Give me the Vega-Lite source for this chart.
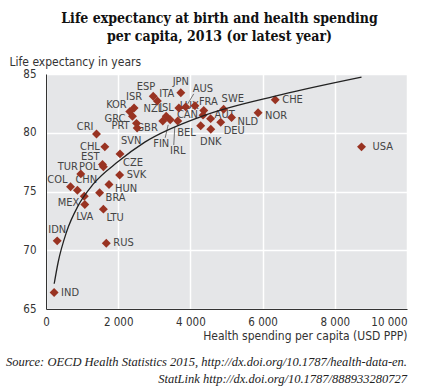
{
  "$schema": "https://vega.github.io/schema/vega-lite/v6.json",
  "padding": {"left": 2, "top": 12, "right": 5, "bottom": 5},
  "background": "white",
  "datasets": {
    "trend": [
      {"spend": 227, "le": 67.15},
      {"spend": 338, "le": 69.0},
      {"spend": 568, "le": 71.55},
      {"spend": 892, "le": 73.8},
      {"spend": 1300, "le": 75.6},
      {"spend": 2000, "le": 77.55},
      {"spend": 2737, "le": 79.2},
      {"spend": 4313, "le": 81.4},
      {"spend": 6524, "le": 83.25},
      {"spend": 8740, "le": 84.74}
    ]
  },
  "title": {
    "text": ["Source:  OECD Health Statistics 2015, http://dx.doi.org/10.1787/health-data-en.", "StatLink  http://dx.doi.org/10.1787/888933280727"],
    "orient": "bottom", "anchor": "end", "frame": "bounds",
    "font": "Liberation Serif", "fontStyle": "italic", "fontWeight": "normal", "fontSize": 12.5,
    "color": "#222222", "lineHeight": 17, "offset": 14
  },
  "vconcat": [
    {
      "width": 361,
      "height": 235,
      "title": {
        "text": ["Life expectancy at birth and health spending", "per capita, 2013 (or latest year)"],
        "anchor": "middle", "frame": "group", "dx": -7,
        "font": "DejaVu Serif Condensed", "fontWeight": "bold", "fontSize": 14,
        "lineHeight": 18, "color": "#111111", "offset": 11
      },
      "data": {"values": [
        {"country": "IND", "spend": 225, "le": 66.4},
        {"country": "IDN", "spend": 310, "le": 70.8},
        {"country": "RUS", "spend": 1670, "le": 70.6},
        {"country": "LTU", "spend": 1590, "le": 73.5},
        {"country": "LVA", "spend": 1075, "le": 73.9},
        {"country": "MEX", "spend": 1060, "le": 74.6},
        {"country": "BRA", "spend": 1485, "le": 74.9},
        {"country": "HUN", "spend": 1745, "le": 75.6},
        {"country": "SVK", "spend": 2040, "le": 76.4},
        {"country": "COL", "spend": 680, "le": 75.4},
        {"country": "CHN", "spend": 870, "le": 75.1},
        {"country": "TUR", "spend": 964, "le": 76.5},
        {"country": "POL", "spend": 1590, "le": 77.1},
        {"country": "EST", "spend": 1565, "le": 77.3},
        {"country": "CHL", "spend": 1630, "le": 78.8},
        {"country": "CZE", "spend": 2050, "le": 78.2},
        {"country": "CRI", "spend": 1399, "le": 79.9},
        {"country": "KOR", "spend": 2320, "le": 81.8},
        {"country": "ISR", "spend": 2440, "le": 82.1},
        {"country": "GRC", "spend": 2395, "le": 81.4},
        {"country": "PRT", "spend": 2507, "le": 80.8},
        {"country": "SVN", "spend": 2525, "le": 80.4},
        {"country": "ESP", "spend": 2970, "le": 83.1},
        {"country": "ITA", "spend": 3085, "le": 82.7},
        {"country": "JPN", "spend": 3735, "le": 83.4},
        {"country": "NZL", "spend": 3330, "le": 81.4},
        {"country": "GBR", "spend": 3235, "le": 81.0},
        {"country": "FIN", "spend": 3440, "le": 81.1},
        {"country": "IRL", "spend": 3650, "le": 81.0},
        {"country": "ISL", "spend": 3680, "le": 82.1},
        {"country": "AUS", "spend": 3870, "le": 82.2},
        {"country": "FRA", "spend": 4125, "le": 82.3},
        {"country": "LUX", "spend": 4370, "le": 81.9},
        {"country": "CAN", "spend": 4350, "le": 81.5},
        {"country": "BEL", "spend": 4285, "le": 80.6},
        {"country": "DNK", "spend": 4565, "le": 80.3},
        {"country": "AUT", "spend": 4560, "le": 81.2},
        {"country": "DEU", "spend": 4840, "le": 80.9},
        {"country": "SWE", "spend": 4920, "le": 82.0},
        {"country": "NLD", "spend": 5140, "le": 81.3},
        {"country": "NOR", "spend": 5875, "le": 81.7},
        {"country": "CHE", "spend": 6350, "le": 82.8},
        {"country": "USA", "spend": 8740, "le": 78.8}
      ]},
      "encoding": {
        "x": {
          "field": "spend", "type": "quantitative",
          "scale": {"domain": [0, 10000], "nice": false, "zero": false},
          "axis": {
            "values": [0, 2000, 4000, 6000, 8000, 10000],
            "labelExpr": "replace(format(datum.value, ','), ',', ' ')",
            "labelAlign": {"condition": {"test": "datum.value == 10000", "value": "right"}, "value": "center"},
            "title": "Health spending per capita (USD PPP)",
            "titleAnchor": "end", "titlePadding": 3,
            "labelPadding": 7
          }
        },
        "y": {
          "field": "le", "type": "quantitative",
          "scale": {"domain": [65, 85], "nice": false, "zero": false},
          "axis": {
            "values": [65, 70, 75, 80, 85],
            "title": "Life expectancy in years",
            "titleAngle": 0, "titleX": -37, "titleY": -9,
            "titleAlign": "left", "titleBaseline": "alphabetic",
            "labelPadding": 10
          }
        }
      },
      "layer": [
        {"transform": [{"filter": {"field": "country", "equal": "AUS"}}],
         "mark": {"type": "rule", "color": "#555555", "strokeWidth": 0.8, "xOffset": 2, "yOffset": -3, "x2Offset": 8, "y2Offset": -13},
         "encoding": {"x2": {"field": "spend"}, "y2": {"field": "le"}}},
        {"transform": [{"filter": {"field": "country", "equal": "FIN"}}],
         "mark": {"type": "rule", "color": "#555555", "strokeWidth": 0.8, "xOffset": -2, "yOffset": 5, "x2Offset": -5, "y2Offset": 18},
         "encoding": {"x2": {"field": "spend"}, "y2": {"field": "le"}}},
        {"transform": [{"filter": {"field": "country", "equal": "IRL"}}],
         "mark": {"type": "rule", "color": "#555555", "strokeWidth": 0.8, "xOffset": -3, "yOffset": 6, "x2Offset": -4, "y2Offset": 24},
         "encoding": {"x2": {"field": "spend"}, "y2": {"field": "le"}}},
        {"transform": [{"filter": {"field": "country", "oneOf": ["IND", "RUS", "SVK", "CHE"]}}],
         "mark": {"type": "text", "align": "left", "baseline": "middle", "dx": 7, "dy": 0},
         "encoding": {"text": {"field": "country"}}},
        {"transform": [{"filter": {"field": "country", "oneOf": ["USA"]}}],
         "mark": {"type": "text", "align": "left", "baseline": "middle", "dx": 11, "dy": 0},
         "encoding": {"text": {"field": "country"}}},
        {"transform": [{"filter": {"field": "country", "oneOf": ["NOR"]}}],
         "mark": {"type": "text", "align": "left", "baseline": "middle", "dx": 7, "dy": 3},
         "encoding": {"text": {"field": "country"}}},
        {"transform": [{"filter": {"field": "country", "oneOf": ["BRA", "NLD", "HUN"]}}],
         "mark": {"type": "text", "align": "left", "baseline": "middle", "dx": 6, "dy": 5},
         "encoding": {"text": {"field": "country"}}},
        {"transform": [{"filter": {"field": "country", "oneOf": ["LTU", "CZE", "DEU"]}}],
         "mark": {"type": "text", "align": "left", "baseline": "middle", "dx": 3, "dy": 9},
         "encoding": {"text": {"field": "country"}}},
        {"transform": [{"filter": {"field": "country", "oneOf": ["LVA", "DNK"]}}],
         "mark": {"type": "text", "align": "center", "baseline": "middle", "dx": 0, "dy": 13},
         "encoding": {"text": {"field": "country"}}},
        {"transform": [{"filter": {"field": "country", "oneOf": ["SVN"]}}],
         "mark": {"type": "text", "align": "center", "baseline": "middle", "dx": -6, "dy": 13},
         "encoding": {"text": {"field": "country"}}},
        {"transform": [{"filter": {"field": "country", "oneOf": ["IDN", "JPN", "ISR"]}}],
         "mark": {"type": "text", "align": "center", "baseline": "middle", "dx": 0, "dy": -11},
         "encoding": {"text": {"field": "country"}}},
        {"transform": [{"filter": {"field": "country", "oneOf": ["CHL", "ISL", "CAN", "POL"]}}],
         "mark": {"type": "text", "align": "right", "baseline": "middle", "dx": -5, "dy": 0},
         "encoding": {"text": {"field": "country"}}},
        {"transform": [{"filter": {"field": "country", "oneOf": ["GRC", "PRT"]}}],
         "mark": {"type": "text", "align": "right", "baseline": "middle", "dx": -7, "dy": 3},
         "encoding": {"text": {"field": "country"}}},
        {"transform": [{"filter": {"field": "country", "oneOf": ["GBR", "BEL", "MEX"]}}],
         "mark": {"type": "text", "align": "right", "baseline": "middle", "dx": -5, "dy": 7},
         "encoding": {"text": {"field": "country"}}},
        {"transform": [{"filter": {"field": "country", "oneOf": ["KOR", "CRI", "EST", "TUR", "COL", "NZL"]}}],
         "mark": {"type": "text", "align": "right", "baseline": "middle", "dx": -3, "dy": -7},
         "encoding": {"text": {"field": "country"}}},
        {"transform": [{"filter": {"field": "country", "oneOf": ["ESP"]}}],
         "mark": {"type": "text", "align": "right", "baseline": "middle", "dx": 2, "dy": -9},
         "encoding": {"text": {"field": "country"}}},
        {"transform": [{"filter": {"field": "country", "oneOf": ["ITA"]}}],
         "mark": {"type": "text", "align": "left", "baseline": "middle", "dx": 2, "dy": -7},
         "encoding": {"text": {"field": "country"}}},
        {"transform": [{"filter": {"field": "country", "oneOf": ["FRA", "AUT"]}}],
         "mark": {"type": "text", "align": "left", "baseline": "middle", "dx": 4, "dy": -4},
         "encoding": {"text": {"field": "country"}}},
        {"transform": [{"filter": {"field": "country", "oneOf": ["SWE", "CHN"]}}],
         "mark": {"type": "text", "align": "left", "baseline": "middle", "dx": -2, "dy": -10},
         "encoding": {"text": {"field": "country"}}},
        {"transform": [{"filter": {"field": "country", "oneOf": ["LUX"]}}],
         "mark": {"type": "text", "align": "right", "baseline": "middle", "dx": -5, "dy": -4},
         "encoding": {"text": {"field": "country"}}},
        {"transform": [{"filter": {"field": "country", "oneOf": ["AUS"]}}],
         "mark": {"type": "text", "align": "left", "baseline": "middle", "dx": 7, "dy": -18},
         "encoding": {"text": {"field": "country"}}},
        {"transform": [{"filter": {"field": "country", "oneOf": ["FIN"]}}],
         "mark": {"type": "text", "align": "center", "baseline": "middle", "dx": -9, "dy": 24},
         "encoding": {"text": {"field": "country"}}},
        {"transform": [{"filter": {"field": "country", "oneOf": ["IRL"]}}],
         "mark": {"type": "text", "align": "center", "baseline": "middle", "dx": 0, "dy": 30},
         "encoding": {"text": {"field": "country"}}},
        {"mark": {"type": "point", "shape": "diamond", "filled": true, "size": 80, "color": "#993322", "opacity": 1}},
        {"data": {"name": "trend"},
         "mark": {"type": "line", "color": "#222222", "strokeWidth": 1.3, "interpolate": "monotone"}},
        {"data": {"values": [{}]},
         "mark": {"type": "text", "text": "R² = 0.51", "align": "right", "baseline": "alphabetic", "dx": -6, "dy": -18, "fontSize": 11.5, "fill": "#555555"},
         "encoding": {"x": {"datum": 10000}, "y": {"datum": 65}}}
      ]
    }
  ],
  "config": {
    "view": {"fill": "#e5e6e8", "stroke": null},
    "text": {"font": "DejaVu Sans Condensed, Roboto, sans-serif", "fontSize": 11, "fill": "#444444"},
    "axis": {
      "domainColor": "#333333", "domainWidth": 1,
      "grid": true, "gridColor": "#ffffff", "gridWidth": 1.5,
      "ticks": false,
      "labelFont": "DejaVu Sans Condensed, Roboto, sans-serif", "labelFontSize": 11.5, "labelColor": "#333333",
      "titleFont": "DejaVu Sans Condensed, Roboto, sans-serif", "titleFontSize": 12, "titleFontWeight": "normal", "titleColor": "#333333"
    }
  }
}
